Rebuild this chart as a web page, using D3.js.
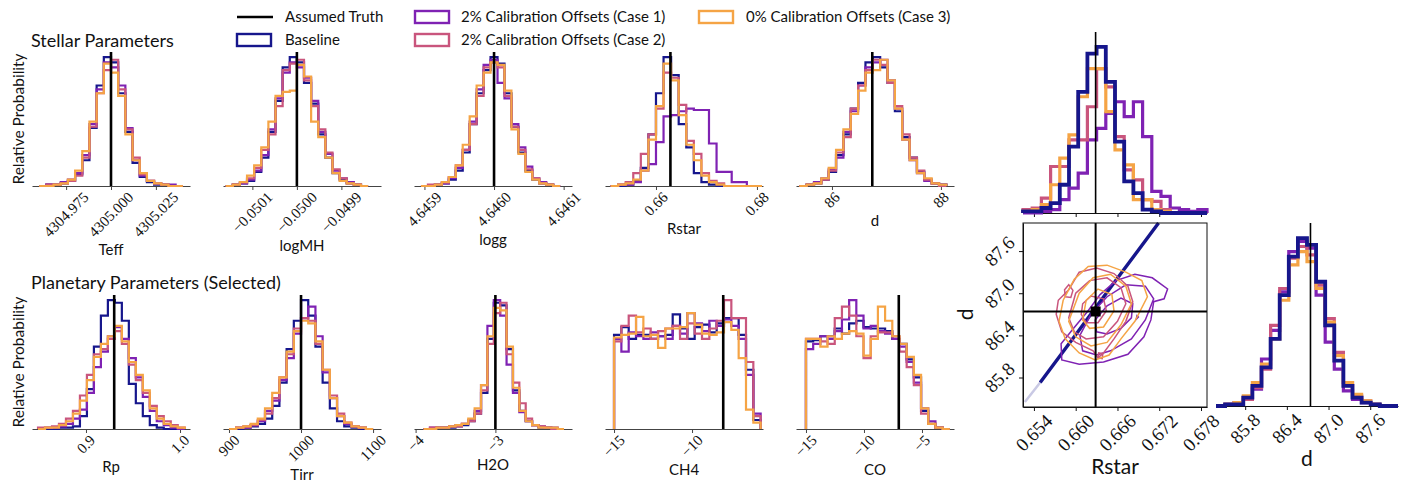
<!DOCTYPE html>
<html>
<head>
<meta charset="utf-8">
<script src="https://cdn.jsdelivr.net/npm/d3@7"></script>
<style>
	body { margin: 0; background: #fff; }
	svg { display: block; }
	text { fill: #111; }
</style>
</head>
<body>
<svg id="chart" width="1406" height="483"></svg>
<script>
// series, in drawing order
var seriesNames = ["Baseline", "2% Calibration Offsets (Case 1)", "2% Calibration Offsets (Case 2)", "0% Calibration Offsets (Case 3)"];
var seriesColors = ["#16168c", "#7f22b3", "#c9557d", "#f5a445"];

var stellarNames = ["Teff", "logMH", "logg", "Rstar", "d"];
var planetNames = ["Rp", "Tirr", "H2O", "CH4", "CO"];
var truthStellar = [4305.0, -0.05, 4.646, 0.66286, 86.74];
var truthPlanet = [0.93, 1000, -3, -8.0, -7.0];

// ---- Stellar parameters ----
var teffDomain = [4304.956, 4305.044];
var teffEdges = [4304.96, 4305.04];
var teffTicks = [4304.975, 4305.0, 4305.025];
var teffTickText = ["4304.975", "4305.000", "4305.025"];
var teffCounts = [
	[0, 1, 1, 2, 4, 9, 20, 45, 78, 100, 96, 72, 42, 18, 7, 3, 1, 1, 0, 0],
	[0, 1, 1, 3, 5, 10, 24, 48, 75, 96, 92, 78, 45, 20, 8, 4, 2, 1, 1, 0],
	[0, 1, 1, 2, 4, 8, 22, 46, 72, 90, 98, 75, 44, 22, 9, 4, 2, 1, 0, 0],
	[0, 0, 1, 2, 5, 12, 27, 50, 72, 95, 88, 70, 40, 20, 10, 4, 2, 1, 0, 0]
];

var logmhDomain = [-0.050166, -0.049811];
var logmhEdges = [-0.05016, -0.04984];
var logmhTicks = [-0.0501, -0.05, -0.0499];
var logmhTickText = ["\u22120.0501", "\u22120.0500", "\u22120.0499"];
var logmhCounts = [
	[0, 1, 2, 4, 11, 22, 42, 66, 92, 100, 96, 80, 64, 40, 22, 10, 5, 2, 1, 0],
	[0, 1, 2, 5, 12, 24, 44, 68, 88, 96, 92, 84, 66, 42, 25, 12, 6, 3, 1, 0],
	[0, 1, 3, 6, 14, 28, 40, 62, 90, 95, 98, 82, 62, 44, 26, 13, 6, 2, 1, 0],
	[0, 1, 3, 8, 16, 30, 50, 70, 73, 74, 94, 85, 50, 38, 22, 10, 4, 2, 1, 0]
];

var loggDomain = [4.645885, 4.646112];
var loggEdges = [4.645895, 4.646095];
var loggTicks = [4.6459, 4.646, 4.6461];
var loggTickText = ["4.6459", "4.6460", "4.6461"];
var loggCounts = [
	[0, 0, 1, 2, 5, 12, 26, 48, 72, 90, 100, 95, 72, 46, 26, 12, 5, 2, 1, 0],
	[0, 0, 1, 2, 6, 14, 28, 50, 75, 94, 98, 80, 68, 48, 30, 15, 6, 3, 1, 0],
	[0, 1, 1, 3, 7, 16, 28, 48, 70, 92, 96, 92, 70, 46, 28, 13, 6, 2, 1, 0],
	[0, 0, 1, 3, 7, 16, 32, 54, 78, 88, 96, 94, 74, 44, 25, 11, 5, 2, 1, 0]
];

var rstarDomain = [0.6499, 0.6812];
var rstarEdges = [0.651, 0.681];
var rstarTicks = [0.66, 0.68];
var rstarTickText = ["0.66", "0.68"];
var rstarCounts = [
	[0, 0, 1, 4, 14, 40, 72, 100, 86, 48, 30, 10, 3, 1, 0, 0, 0, 0, 0, 0],
	[0, 1, 1, 3, 12, 17, 34, 54, 55, 58, 60, 59, 59, 33, 11, 11, 3, 3, 0, 0],
	[0, 1, 3, 10, 25, 40, 60, 88, 84, 63, 35, 25, 10, 4, 2, 0, 0, 0, 0, 0],
	[0, 1, 2, 5, 12, 36, 62, 95, 82, 55, 32, 20, 8, 3, 1, 0, 0, 0, 0, 0]
];

var dDomain = [85.34, 88.24];
var dEdges = [85.4, 88.1];
var dTicks = [86, 88];
var dTickText = ["86", "88"];
var dCounts = [
	[0, 1, 2, 5, 11, 24, 40, 60, 80, 96, 100, 92, 80, 58, 38, 22, 11, 5, 2, 1],
	[0, 1, 3, 6, 13, 22, 42, 58, 78, 92, 96, 98, 82, 60, 36, 20, 10, 4, 2, 1],
	[0, 1, 2, 5, 12, 26, 38, 60, 78, 90, 98, 94, 80, 62, 40, 22, 12, 5, 2, 0],
	[0, 1, 2, 6, 14, 28, 44, 56, 74, 88, 90, 98, 82, 60, 36, 20, 10, 6, 2, 1]
];

// ---- Planetary parameters ----
var rpDomain = [0.8426, 1.0106];
var rpEdges = [0.849, 1.005];
var rpTicks = [0.9, 1.0];
var rpTickText = ["0.9", "1.0"];
var rpCounts = [
	[0, 0, 0, 1, 1, 2, 10, 31, 64, 88, 100, 98, 84, 35, 20, 10, 3, 1, 0, 0, 0],
	[0, 1, 1, 2, 4, 8, 15, 28, 48, 60, 72, 79, 70, 55, 40, 25, 14, 6, 3, 1, 0],
	[1, 1, 2, 4, 8, 14, 26, 42, 58, 62, 70, 76, 66, 50, 38, 28, 18, 10, 6, 3, 1],
	[0, 1, 1, 3, 6, 12, 22, 38, 56, 66, 72, 80, 68, 52, 42, 30, 16, 8, 4, 2, 1]
];

var tirrDomain = [891.7, 1111];
var tirrEdges = [900, 1100];
var tirrTicks = [900, 1000, 1100];
var tirrTickText = ["900", "1000", "1100"];
var tirrCounts = [
	[0, 0, 1, 2, 4, 8, 18, 36, 62, 84, 100, 88, 64, 36, 16, 6, 2, 1, 0, 0],
	[0, 1, 1, 3, 6, 14, 22, 38, 55, 74, 86, 95, 72, 44, 24, 10, 4, 2, 1, 0],
	[0, 1, 2, 3, 7, 12, 24, 40, 58, 78, 86, 84, 66, 46, 26, 12, 5, 2, 1, 0],
	[0, 1, 2, 4, 8, 16, 28, 40, 60, 76, 84, 82, 68, 46, 24, 10, 5, 2, 1, 0]
];

var h2oDomain = [-4.02, -2.04];
var h2oEdges = [-3.9, -2.14];
var h2oTicks = [-4, -3];
var h2oTickText = ["\u22124", "\u22123"];
var h2oCounts = [
	[0, 0, 1, 1, 1, 2, 3, 6, 12, 28, 70, 98, 96, 62, 30, 14, 6, 3, 1, 1, 0, 0],
	[0, 1, 1, 1, 2, 3, 4, 7, 14, 34, 80, 100, 88, 50, 28, 13, 6, 3, 2, 1, 1, 0],
	[0, 1, 1, 1, 2, 2, 4, 6, 12, 30, 66, 90, 98, 58, 36, 20, 8, 3, 2, 1, 0, 0],
	[0, 0, 1, 1, 2, 3, 4, 8, 16, 34, 72, 94, 92, 64, 32, 14, 6, 3, 1, 1, 1, 0]
];

var ch4Domain = [-15.58, -5.45];
var ch4Edges = [-15, -5.6];
var ch4Ticks = [-15, -10];
var ch4TickText = ["\u221215", "\u221210"];
var ch4Counts = [
	[73, 79, 70, 73, 73, 70, 72, 73, 89, 78, 70, 79, 81, 75, 82, 86, 86, 73, 46, 7],
	[70, 60, 75, 72, 70, 75, 72, 70, 80, 74, 90, 82, 76, 84, 80, 85, 80, 70, 42, 12],
	[68, 80, 88, 75, 78, 70, 76, 78, 80, 70, 82, 74, 70, 78, 84, 100, 86, 86, 52, 10],
	[71, 73, 74, 87, 72, 73, 63, 78, 78, 79, 90, 81, 74, 73, 75, 83, 77, 55, 15, 5]
];

var coDomain = [-15.86, -2.24];
var coEdges = [-15, -2.6];
var coTicks = [-15, -10, -5];
var coTickText = ["\u221215", "\u221210", "\u22125"];
var coCounts = [
	[68, 69, 72, 72, 78, 74, 82, 84, 79, 78, 78, 76, 70, 66, 54, 40, 14, 4, 1, 0],
	[62, 66, 72, 70, 76, 85, 100, 88, 78, 80, 76, 74, 70, 64, 52, 36, 16, 6, 1, 0],
	[70, 70, 68, 66, 86, 95, 88, 72, 55, 72, 75, 75, 72, 60, 48, 34, 12, 4, 1, 0],
	[70, 70, 64, 72, 70, 74, 76, 74, 57, 70, 95, 84, 72, 66, 56, 42, 16, 4, 1, 0]
];

// ---- Corner plot: Rstar vs d ----
var cornerRstarRange = [0.65243, 0.67886];
var cornerDRange = [85.38, 88.0];
var cornerTruth = [0.66286, 86.74];
var cornerRstarTicks = [0.654, 0.66, 0.666, 0.672, 0.678];
var cornerRstarTickText = ["0.654", "0.660", "0.666", "0.672", "0.678"];
var cornerDTicks = [85.8, 86.4, 87.0, 87.6];
var cornerDTickText = ["85.8", "86.4", "87.0", "87.6"];
var cornerRstarCounts = [
	[1, 1, 3, 6, 17, 40, 73, 96, 100, 79, 43, 19, 12, 2, 1, 0, 0, 0, 0, 0],
	[0, 0, 1, 2, 8, 15, 24, 44, 51, 60, 67, 58, 67, 46, 13, 10, 3, 2, 1, 2],
	[2, 3, 9, 28, 28, 44, 44, 64, 87, 76, 46, 26, 20, 8, 7, 2, 0, 0, 0, 0],
	[1, 2, 5, 17, 33, 47, 70, 87, 87, 61, 38, 29, 8, 8, 2, 1, 0, 0, 0, 0]
];
var cornerDCounts = [
	[0, 1, 1, 5, 12, 23, 40, 66, 89, 100, 96, 74, 48, 27, 12, 5, 2, 1, 0, 0],
	[0, 1, 2, 5, 10, 28, 45, 68, 92, 98, 94, 66, 38, 22, 9, 4, 2, 1, 0, 0],
	[0, 1, 2, 4, 11, 22, 48, 70, 88, 95, 90, 72, 52, 32, 14, 6, 3, 1, 0, 0],
	[0, 1, 2, 6, 14, 25, 40, 63, 84, 92, 86, 70, 50, 30, 14, 7, 3, 1, 0, 0]
];
// baseline samples fall on a straight ridge (Rstar, d)
var baselineRidge = [[0.6549, 85.73], [0.66, 86.41], [0.665, 87.08], [0.6719, 88.0]];
var baselineFaint = [[0.6527, 85.45], [0.6549, 85.73]];

// contour rings, [Rstar, d]
var case1Contours = [
	[[0.658, 86.05], [0.6579, 86.28], [0.6597, 86.5], [0.6617, 86.74], [0.6635, 86.98], [0.6658, 87.18], [0.6685, 87.27], [0.671, 87.22], [0.6732, 87.06], [0.6727, 86.92], [0.6712, 86.88], [0.6708, 86.62], [0.6698, 86.38], [0.6675, 86.13], [0.664, 86.02], [0.6605, 85.99]],
	[[0.661, 86.18], [0.6606, 86.4], [0.6622, 86.7], [0.6645, 86.95], [0.6672, 87.12], [0.67, 87.1], [0.6712, 86.92], [0.67, 86.62], [0.668, 86.35], [0.665, 86.18], [0.663, 86.12]],
	[[0.663, 86.45], [0.6628, 86.62], [0.6645, 86.82], [0.6665, 86.93], [0.6682, 86.85], [0.668, 86.65], [0.6665, 86.5], [0.6645, 86.42]],
	[[0.6687, 86.63], [0.669, 86.66], [0.6688, 86.68]]
];
var case2Contours = [
	[[0.6572, 86.7], [0.658, 86.45], [0.66, 86.3], [0.6625, 86.18], [0.6632, 86.08], [0.664, 86.15], [0.6655, 86.35], [0.6672, 86.6], [0.6682, 86.88], [0.6675, 87.1], [0.6655, 87.28], [0.663, 87.36], [0.6605, 87.3], [0.659, 87.05], [0.6575, 86.9]],
	[[0.659, 86.65], [0.6598, 86.45], [0.6615, 86.35], [0.664, 86.38], [0.666, 86.6], [0.6672, 86.85], [0.6665, 87.08], [0.6645, 87.22], [0.662, 87.18], [0.66, 87.0]],
	[[0.6608, 86.7], [0.6615, 86.58], [0.6632, 86.58], [0.6644, 86.75], [0.664, 86.92], [0.6622, 86.96], [0.661, 86.85]],
	[[0.6585, 86.95], [0.6593, 86.94], [0.6596, 87.04], [0.659, 87.12], [0.6584, 87.05]],
	[[0.6632, 86.08], [0.6638, 86.07], [0.6639, 86.14], [0.6633, 86.15]]
];
var case3Contours = [
	[[0.6576, 86.6], [0.6585, 86.35], [0.6605, 86.15], [0.6628, 86.05], [0.6648, 86.12], [0.6665, 86.35], [0.6685, 86.6], [0.6703, 86.95], [0.6695, 87.18], [0.6672, 87.3], [0.6645, 87.4], [0.6618, 87.38], [0.6598, 87.2], [0.6582, 86.9]],
	[[0.659, 86.6], [0.66, 86.38], [0.6622, 86.25], [0.6645, 86.3], [0.6665, 86.55], [0.668, 86.85], [0.6672, 87.1], [0.665, 87.27], [0.6625, 87.22], [0.6605, 87.0]],
	[[0.661, 86.62], [0.662, 86.5], [0.664, 86.52], [0.6655, 86.75], [0.6652, 86.98], [0.6632, 87.06], [0.6615, 86.9]]
];

// ---------------------------------------------------------------
var svg = d3.select("#chart");
var serif = '"Liberation Serif", "DejaVu Serif", serif';
var sans = 'Lato, "Open Sans", sans-serif';

var topPanels = [
	{ name: stellarNames[0], domain: teffDomain, edges: teffEdges, ticks: teffTicks, tickText: teffTickText, counts: teffCounts, truth: truthStellar[0] },
	{ name: stellarNames[1], domain: logmhDomain, edges: logmhEdges, ticks: logmhTicks, tickText: logmhTickText, counts: logmhCounts, truth: truthStellar[1] },
	{ name: stellarNames[2], domain: loggDomain, edges: loggEdges, ticks: loggTicks, tickText: loggTickText, counts: loggCounts, truth: truthStellar[2] },
	{ name: stellarNames[3], domain: rstarDomain, edges: rstarEdges, ticks: rstarTicks, tickText: rstarTickText, counts: rstarCounts, truth: truthStellar[3] },
	{ name: stellarNames[4], domain: dDomain, edges: dEdges, ticks: dTicks, tickText: dTickText, counts: dCounts, truth: truthStellar[4] }
];
var bottomPanels = [
	{ name: planetNames[0], domain: rpDomain, edges: rpEdges, ticks: rpTicks, tickText: rpTickText, counts: rpCounts, truth: truthPlanet[0] },
	{ name: planetNames[1], domain: tirrDomain, edges: tirrEdges, ticks: tirrTicks, tickText: tirrTickText, counts: tirrCounts, truth: truthPlanet[1] },
	{ name: planetNames[2], domain: h2oDomain, edges: h2oEdges, ticks: h2oTicks, tickText: h2oTickText, counts: h2oCounts, truth: truthPlanet[2] },
	{ name: planetNames[3], domain: ch4Domain, edges: ch4Edges, ticks: ch4Ticks, tickText: ch4TickText, counts: ch4Counts, truth: truthPlanet[3] },
	{ name: planetNames[4], domain: coDomain, edges: coEdges, ticks: coTicks, tickText: coTickText, counts: coCounts, truth: truthPlanet[4] }
];

function stepPath(counts, edges, x, y) {
	var w = (edges[1] - edges[0]) / counts.length;
	var pts = [[edges[0], 0]];
	counts.forEach(function (c, i) {
		pts.push([edges[0] + i * w, c]);
	});
	pts.push([edges[1], counts[counts.length - 1]]);
	pts.push([edges[1], 0]);
	return d3.line()
		.x(function (d) { return x(d[0]); })
		.y(function (d) { return y(d[1]); })
		.curve(d3.curveStepAfter)(pts);
}

function label(g, txt, size) {
	return g.append("text").text(txt).style("font-family", sans).style("font-size", size + "px");
}

// rotated (45 deg) tick labels below an axis, returns height of the label box
function xTickLabels(g, ticks, labels, x, axisY, size, pad) {
	var maxH = 0;
	ticks.forEach(function (t, i) {
		var txt = g.append("text")
			.text(labels[i])
			.style("font-family", serif)
			.style("font-size", size + "px")
			.attr("text-anchor", "middle")
			.attr("dominant-baseline", "central");
		var len = txt.node().getComputedTextLength();
		var half = (len + size * 0.7) * Math.SQRT1_2 / 2;
		txt.attr("transform", "translate(" + x(t) + "," + (axisY + pad + half) + ") rotate(-45)");
		maxH = Math.max(maxH, 2 * half);
	});
	return maxH;
}

function styleAxis(a, color) {
	a.select(".domain").attr("stroke", color);
	a.selectAll(".tick line").attr("stroke", color);
}

function drawPanel(p, col, top, bottom) {
	var x0 = 32 + 191 * col;
	var x = d3.scaleLinear().domain(p.domain).range([x0, x0 + 158]);
	var maxC = d3.max(p.counts, function (c) { return d3.max(c); });
	var y = d3.scaleLinear().domain([0, maxC * 1.04]).range([bottom, top]);
	var g = svg.append("g");

	var ax = g.append("g")
		.attr("transform", "translate(0," + bottom + ")")
		.call(d3.axisBottom(x).tickValues(p.ticks).tickFormat("").tickSize(4).tickSizeOuter(0));
	styleAxis(ax, "#444");

	p.counts.forEach(function (c, s) {
		g.append("path")
			.attr("d", stepPath(c, p.edges, x, y))
			.attr("fill", "none")
			.attr("stroke", seriesColors[s])
			.attr("stroke-width", 2.2)
			.attr("stroke-linejoin", "miter");
	});

	g.append("line")
		.attr("x1", x(p.truth)).attr("x2", x(p.truth))
		.attr("y1", top).attr("y2", bottom)
		.attr("stroke", "#000").attr("stroke-width", 2.6);

	var h = xTickLabels(g, p.ticks, p.tickText, x, bottom, 15, 5);
	label(g, p.name, 15)
		.attr("x", x0 + 79)
		.attr("y", bottom + 5 + h + 17)
		.attr("text-anchor", "middle");
}

topPanels.forEach(function (p, i) { drawPanel(p, i, 52, 186); });
bottomPanels.forEach(function (p, i) { drawPanel(p, i, 295, 429); });

// titles and y labels
label(svg, "Stellar Parameters", 18).attr("x", 31).attr("y", 47);
label(svg, "Planetary Parameters (Selected)", 18).attr("x", 31).attr("y", 289);
[119, 362].forEach(function (cy) {
	label(svg, "Relative Probability", 15.5)
		.attr("transform", "translate(24," + cy + ") rotate(-90)")
		.attr("text-anchor", "middle");
});

// legend
var legend = svg.append("g");
legend.append("line").attr("x1", 237).attr("x2", 273).attr("y1", 17).attr("y2", 17)
	.attr("stroke", "#000").attr("stroke-width", 2.6);
label(legend, "Assumed Truth", 15).attr("x", 285).attr("y", 22);
var legendSlots = [[237, 40, 285], [415, 17, 461], [415, 40, 461], [699, 17, 746]];
seriesNames.forEach(function (n, i) {
	var s = legendSlots[i];
	legend.append("rect")
		.attr("x", s[0]).attr("y", s[1] - 6).attr("width", 34).attr("height", 12)
		.attr("fill", "none").attr("stroke", seriesColors[i]).attr("stroke-width", 2.4);
	label(legend, n, 15).attr("x", s[2]).attr("y", s[1] + 5);
});

// ---- corner plot ----
var cornerOrder = [1, 2, 3, 0];
var cornerWidths = [3.8, 3.2, 3.2, 3.2];
var rx = d3.scaleLinear().domain(cornerRstarRange).range([1023, 1207]);
var dy = d3.scaleLinear().domain(cornerDRange).range([407, 223]);
var dx = d3.scaleLinear().domain(cornerDRange).range([1216, 1398]);
var corner = svg.append("g");

// top histogram (Rstar)
var topY = d3.scaleLinear().domain([0, 109]).range([213, 32]);
var topAx = corner.append("g").attr("transform", "translate(0,213)")
	.call(d3.axisBottom(rx).tickValues(cornerRstarTicks).tickFormat("").tickSize(4).tickSizeOuter(0));
styleAxis(topAx, "#111");
cornerOrder.forEach(function (s) {
	corner.append("path")
		.attr("d", stepPath(cornerRstarCounts[s], cornerRstarRange, rx, topY))
		.attr("fill", "none").attr("stroke", seriesColors[s]).attr("stroke-width", cornerWidths[s]);
});
corner.append("line").attr("x1", rx(cornerTruth[0])).attr("x2", rx(cornerTruth[0]))
	.attr("y1", 32).attr("y2", 213).attr("stroke", "#000").attr("stroke-width", 1.6);

// right histogram (d)
var rightY = d3.scaleLinear().domain([0, 109]).range([406, 223]);
var rightAx = corner.append("g").attr("transform", "translate(0,406)")
	.call(d3.axisBottom(dx).tickValues(cornerDTicks).tickFormat("").tickSize(4).tickSizeOuter(0));
styleAxis(rightAx, "#111");
cornerOrder.forEach(function (s) {
	corner.append("path")
		.attr("d", stepPath(cornerDCounts[s], cornerDRange, dx, rightY))
		.attr("fill", "none").attr("stroke", seriesColors[s]).attr("stroke-width", cornerWidths[s]);
});
corner.append("line").attr("x1", dx(cornerTruth[1])).attr("x2", dx(cornerTruth[1]))
	.attr("y1", 223).attr("y2", 406).attr("stroke", "#000").attr("stroke-width", 1.6);
var hR = xTickLabels(corner, cornerDTicks, cornerDTickText, dx, 406, 19, 6);
label(corner, "d", 21).attr("x", 1307).attr("y", 406 + 6 + hR + 21).attr("text-anchor", "middle");

// scatter / contour panel
var contourLine = d3.line()
	.x(function (d) { return rx(d[0]); })
	.y(function (d) { return dy(d[1]); })
	.curve(d3.curveLinearClosed);
var openLine = d3.line()
	.x(function (d) { return rx(d[0]); })
	.y(function (d) { return dy(d[1]); });

corner.append("path").attr("d", openLine(baselineFaint))
	.attr("stroke", "#c9c9e4").attr("stroke-width", 2.5).attr("fill", "none");
corner.append("path").attr("d", openLine(baselineRidge))
	.attr("stroke", seriesColors[0]).attr("stroke-width", 3.4).attr("fill", "none");

[[case1Contours, 1], [case2Contours, 2], [case3Contours, 3]].forEach(function (set) {
	set[0].forEach(function (ring) {
		corner.append("path").attr("d", contourLine(ring))
			.attr("fill", "none").attr("stroke", seriesColors[set[1]]).attr("stroke-width", 1.5);
	});
});

corner.append("line").attr("x1", rx(cornerTruth[0])).attr("x2", rx(cornerTruth[0]))
	.attr("y1", 223).attr("y2", 407).attr("stroke", "#000").attr("stroke-width", 2);
corner.append("line").attr("x1", 1023).attr("x2", 1207)
	.attr("y1", dy(cornerTruth[1])).attr("y2", dy(cornerTruth[1])).attr("stroke", "#000").attr("stroke-width", 2);
corner.append("rect").attr("x", rx(cornerTruth[0]) - 5).attr("y", dy(cornerTruth[1]) - 5)
	.attr("width", 10).attr("height", 10).attr("fill", "#000");

corner.append("rect").attr("x", 1023).attr("y", 223).attr("width", 184).attr("height", 184)
	.attr("fill", "none").attr("stroke", "#111").attr("stroke-width", 1);
var sxAx = corner.append("g").attr("transform", "translate(0,407)")
	.call(d3.axisBottom(rx).tickValues(cornerRstarTicks).tickFormat("").tickSize(4).tickSizeOuter(0));
styleAxis(sxAx, "#111");
var syAx = corner.append("g").attr("transform", "translate(1023,0)")
	.call(d3.axisLeft(dy).tickValues(cornerDTicks).tickFormat("").tickSize(4).tickSizeOuter(0));
styleAxis(syAx, "#111");

var hS = xTickLabels(corner, cornerRstarTicks, cornerRstarTickText, rx, 407, 19, 6);
label(corner, "Rstar", 21).attr("x", 1115).attr("y", 407 + 6 + hS + 21).attr("text-anchor", "middle");

// y tick labels, rotated, left of the box
var maxW = 0;
cornerDTicks.forEach(function (t, i) {
	var txt = corner.append("text")
		.text(cornerDTickText[i])
		.style("font-family", serif)
		.style("font-size", "19px")
		.attr("text-anchor", "middle")
		.attr("dominant-baseline", "central");
	var len = txt.node().getComputedTextLength();
	var half = (len + 13) * Math.SQRT1_2 / 2;
	txt.attr("transform", "translate(" + (1023 - 7 - half) + "," + dy(t) + ") rotate(-45)");
	maxW = Math.max(maxW, 2 * half);
});
label(corner, "d", 21)
	.attr("transform", "translate(" + (1023 - 7 - maxW - 10) + "," + dy(86.7) + ") rotate(-90)")
	.attr("text-anchor", "middle");
</script>
</body>
</html>
